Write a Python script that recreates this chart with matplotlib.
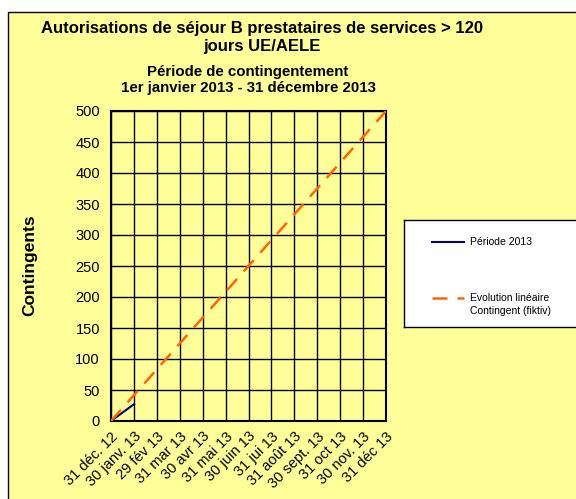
import matplotlib.pyplot as plt
from matplotlib.patches import Rectangle

plt.rcParams['font.family'] = ['Liberation Sans', 'DejaVu Sans']

dates = ["31 déc. 12", "30 janv. 13", "29 fév 13", "31 mar 13", "30 avr 13",
         "31 mai 13", "30 juin 13", "31 jui 13", "31 août 13", "30 sept. 13",
         "31 oct 13", "30 nov. 13", "31 déc 13"]
periode = [0, 27]
contingent = [0, 500]

bg = "#FFFF99"
fig = plt.figure(figsize=(5.76, 4.99), dpi=100)
fig.patch.set_facecolor("white")
fig.patches.append(Rectangle((8/576, -0.05), 1.0, 1.05 - 12/499, transform=fig.transFigure,
                             facecolor=bg, edgecolor="black", linewidth=1, zorder=-5))

ax = fig.add_axes([111/576, 1 - 421/499, 275/576, 310/499])
ax.set_facecolor(bg)

x = list(range(len(dates)))
ax.plot(x[:len(periode)], periode, color="#000080", lw=1.5, zorder=3)
ax.plot([x[0], x[-1]], contingent, color="#FF6600", lw=1.8, dashes=(6, 4), zorder=3)

ax.set_xlim(0, len(dates) - 1)
ax.set_ylim(0, 500)
ax.set_yticks(range(0, 501, 50))
ax.set_xticks(x)
ax.set_xticklabels(dates, rotation=45, ha="right", rotation_mode="anchor", fontsize=10.5)
ax.tick_params(axis="y", labelsize=10.5, length=0, pad=8)
ax.tick_params(axis="x", length=0, pad=6)
ax.grid(True, color="black", lw=1)
for s in ax.spines.values():
    s.set_linewidth(1.5)

fig.text(262/576, 1 - 38/499, "Autorisations de séjour B prestataires de services > 120\njours UE/AELE",
         ha="center", va="center", fontsize=12, fontweight="bold", linespacing=1.25)
fig.text(248/576, 1 - 80/499, "Période de contingentement\n1er janvier 2013 - 31 décembre 2013",
         ha="center", va="center", fontsize=10.8, fontweight="bold", linespacing=1.15)
fig.text(30/576, 1 - 265/499, "Contingents", rotation=90, ha="center", va="center",
         fontsize=12.5, fontweight="bold")

lax = fig.add_axes([404/576, 1 - 327/499, 180/576, 107/499])
lax.set_facecolor("white")
lax.set_xticks([])
lax.set_yticks([])
lax.set_xlim(0, 180)
lax.set_ylim(107, 0)
lax.plot([28, 60], [22, 22], color="#000080", lw=1.5)
lax.text(66, 22, "Période 2013", fontsize=7.5, va="center")
lax.plot([28, 60], [78, 78], color="#FF6600", lw=1.8, dashes=(6, 4))
lax.text(66, 78, "Evolution linéaire", fontsize=7.5, va="center")
lax.text(66, 91, "Contingent (fiktiv)", fontsize=7.5, va="center")
for s in lax.spines.values():
    s.set_linewidth(1)

fig.savefig("out.png", dpi=100, facecolor=fig.get_facecolor())
